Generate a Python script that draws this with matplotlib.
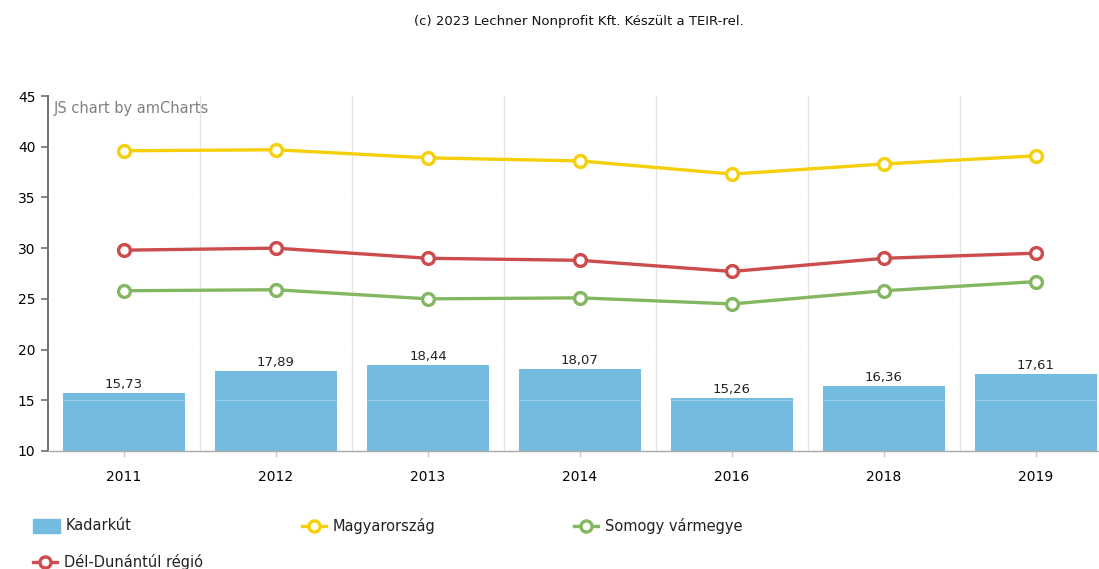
import numpy as np
import matplotlib.pyplot as plt
from matplotlib.lines import Line2D
from matplotlib.patches import Rectangle

years = ['2011', '2012', '2013', '2014', '2016', '2018', '2019']
kadarkut = [15.73, 17.89, 18.44, 18.07, 15.26, 16.36, 17.61]
magyarorszag = [39.6, 39.7, 38.9, 38.6, 37.3, 38.3, 39.1]
del_dunantul = [29.8, 30.0, 29.0, 28.8, 27.7, 29.0, 29.5]
somogy = [25.8, 25.9, 25.0, 25.1, 24.5, 25.8, 26.7]

bar_color = '#73bbdf'
yellow = '#f5cf0a'
red = '#cc4b4c'
green = '#84b761'

plt.rcParams['font.family'] = 'DejaVu Sans'

fig = plt.figure(figsize=(10.99, 5.69), dpi=100)
# plot area runs past the right edge of the figure on purpose
ax = fig.add_axes([48 / 1099, 1 - 451 / 569, 1064 / 1099, 355 / 569])

x = np.arange(len(years))
bars = ax.bar(x, [v - 10 for v in kadarkut], bottom=10, width=0.8,
              color=bar_color, zorder=2)
for xi, v in zip(x, kadarkut):
    ax.text(xi, v + 0.2, f'{v:.2f}'.replace('.', ','), ha='center', va='bottom',
            fontsize=9.5, color='#222222', zorder=5)

for vals, col in [(magyarorszag, yellow), (del_dunantul, red), (somogy, green)]:
    ax.plot(x, vals, color=col, lw=2.4, marker='o', ms=8.5, mfc='white',
            mec=col, mew=2.4, zorder=4)

ax.set_xlim(-0.5, len(years) - 0.5)
ax.set_ylim(10, 45)
ax.set_yticks(range(10, 46, 5))
ax.set_xticks(x)
ax.set_xticklabels(years)

# vertical grid between categories, faint horizontal lines over the bars
for b in np.arange(0.5, len(years) - 0.5):
    ax.axvline(b, color='#e4e4e4', lw=0.9, zorder=1)
for yv in range(15, 45, 5):
    ax.axhline(yv, color='white', alpha=0.25, lw=0.9, zorder=3)

for s in ['top', 'right']:
    ax.spines[s].set_visible(False)
ax.spines['left'].set_color('#707070')
ax.spines['left'].set_linewidth(1.4)
ax.spines['bottom'].set_color('#aaaaaa')
ax.spines['bottom'].set_linewidth(1.0)
ax.tick_params(axis='y', length=5, width=1.2, color='#707070', labelsize=10, pad=4)
ax.tick_params(axis='x', length=4, width=1.0, color='#cccccc', labelsize=10, pad=10)

ax.text(6 / 1064, 1 - 12 / 355, 'JS chart by amCharts', transform=ax.transAxes,
        fontsize=10.5, color='#808080', ha='left', va='center')

fig.text(579 / 1099, 1 - 22 / 569, '(c) 2023 Lechner Nonprofit Kft. Készült a TEIR-rel.',
         ha='center', va='center', fontsize=9.5, color='#111111')

# legend, drawn by hand in figure pixels
def fx(px):
    return px / 1099


def fy(py):
    return 1 - py / 569


fig.patches.append(Rectangle((fx(33), fy(533)), 27 / 1099, 14 / 569,
                             transform=fig.transFigure, color=bar_color))
fig.text(fx(66), fy(526), 'Kadarkút', fontsize=10.5, va='center', color='#222222')

legend_lines = [('Magyarország', yellow, 302, 526),
                ('Somogy vármegye', green, 574, 526),
                ('Dél-Dunántúl régió', red, 33, 562)]
for label, col, px, py in legend_lines:
    fig.add_artist(Line2D([fx(px), fx(px + 24)], [fy(py), fy(py)],
                          transform=fig.transFigure, color=col, lw=2.4))
    fig.add_artist(Line2D([fx(px + 12)], [fy(py)], transform=fig.transFigure,
                          marker='o', ms=8, mfc='white', mec=col, mew=2.4, lw=0))
    fig.text(fx(px + 31), fy(py), label, fontsize=10.5, va='center', color='#222222')

fig.savefig('out.png', dpi=100)
